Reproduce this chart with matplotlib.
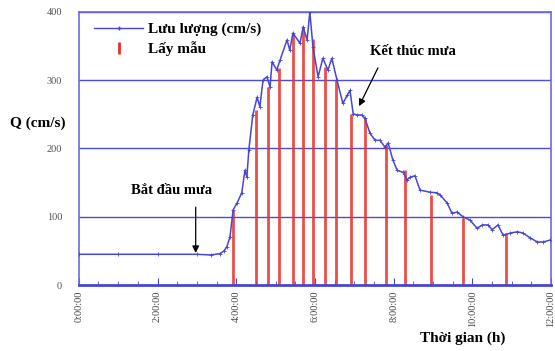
import matplotlib
matplotlib.use("Agg")
import matplotlib.pyplot as plt
from matplotlib.lines import Line2D
import numpy as np

# ---- data ----
time_h = [0.0, 1.0, 2.0, 3.0, 3.35, 3.59, 3.69, 3.76, 3.84, 3.92, 4.02, 4.14, 4.22, 4.27,
          4.32, 4.42, 4.53, 4.60, 4.68, 4.78, 4.86, 4.91, 5.03, 5.11, 5.29, 5.36, 5.44,
          5.62, 5.70, 5.80, 5.87, 5.95, 6.08, 6.20, 6.33, 6.43, 6.56, 6.71, 6.82, 6.89,
          6.97, 7.07, 7.20, 7.27, 7.40, 7.53, 7.65, 7.78, 7.86, 7.98, 8.09, 8.24, 8.34,
          8.42, 8.54, 8.67, 8.92, 9.10, 9.18, 9.36, 9.48, 9.61, 9.76, 9.94, 10.12, 10.25,
          10.40, 10.50, 10.65, 10.78, 10.96, 11.14, 11.29, 11.47, 11.65, 11.80, 11.98]
flow = [45, 45, 45, 45, 44, 46, 50, 56, 70, 110, 120, 135, 168, 158,
        198, 249, 275, 261, 300, 305, 290, 327, 315, 329, 359, 344, 369,
        354, 378, 359, 400, 348, 305, 332, 315, 332, 300, 266, 278, 285,
        251, 249, 249, 244, 222, 212, 212, 202, 208, 183, 168, 165, 154,
        158, 160, 139, 136, 135, 132, 120, 105, 107, 100, 95, 83, 88,
        88, 81, 88, 73, 76, 78, 76, 69, 63, 63, 66]

sample_time_h = [3.92, 4.50, 4.81, 5.09, 5.44, 5.70, 5.95, 6.25, 6.53, 6.92, 7.27,
                 7.81, 8.29, 8.95, 9.76, 10.86]
sample_flow = [110, 256, 290, 318, 369, 378, 361, 320, 300, 251, 244, 205, 168,
               132, 98, 76]

xtick_hours = [0, 2, 4, 6, 8, 10, 12]
xtick_labels = ["0:00:00", "2:00:00", "4:00:00", "6:00:00", "8:00:00", "10:00:00", "12:00:00"]
ytick_vals = [0, 100, 200, 300, 400]

# ---- figure ----
fig = plt.figure(figsize=(5.55, 3.51), dpi=100)
ax = fig.add_axes([0.142, 0.188, 0.851, 0.778])

blue = "#4646d4"
red = "#e8302a"
serif = ["Liberation Serif", "DejaVu Serif"]

for v in ytick_vals[1:]:
    ax.axhline(v, color="#4b4be0", lw=1.0, zorder=1)

ax.vlines(sample_time_h, 0, sample_flow, colors=red, lw=2.0, alpha=0.85, zorder=2)
ax.plot(time_h, flow, color=blue, lw=1.1, marker="+", ms=2.5, mew=0.6, zorder=3)

ax.set_xlim(0, 12)
ax.set_ylim(0, 400)
ax.set_xticks(xtick_hours)
ax.set_xticklabels(xtick_labels, rotation=90, fontsize=7.5, color="#444444", family=serif)
ax.set_xticks(np.arange(0, 12.01, 0.5), minor=True)
ax.set_yticks(ytick_vals)
ax.set_yticklabels([str(v) for v in ytick_vals], fontsize=7.5, color="#555555", family=serif)
ax.tick_params(axis="x", which="major", direction="in", length=5, color=blue, pad=4)
ax.tick_params(axis="x", which="minor", direction="in", length=3, color=blue)
ax.tick_params(axis="y", length=0, pad=12)

for s in ["top", "right", "left"]:
    ax.spines[s].set_color("#6a6ae0")
    ax.spines[s].set_linewidth(1.2)
ax.spines["bottom"].set_color(blue)
ax.spines["bottom"].set_linewidth(2.0)

fig.text(0.018, 0.65, "Q (cm/s)", fontsize=11, fontweight="bold", family=serif,
         ha="left", va="center")
fig.text(0.91, 0.035, "Thời gian (h)", fontsize=11, fontweight="bold", family=serif,
         ha="right", va="center")

ax.text(2.35, 138, "Bắt đầu mưa", fontsize=10.5, fontweight="bold", family=serif,
        ha="center", va="center")
ax.annotate("", xy=(2.97, 47), xytext=(2.97, 114),
            arrowprops=dict(arrowstyle="-|>", color="black", lw=0.9, shrinkA=0, shrinkB=0))
ax.annotate("", xy=(7.12, 262), xytext=(7.6, 318),
            arrowprops=dict(arrowstyle="-|>", color="black", lw=0.9, shrinkA=0, shrinkB=0))
ax.text(8.5, 342, "Kết thúc mưa", fontsize=10.5, fontweight="bold", family=serif,
        ha="center", va="center")

handles = [Line2D([0], [0], color=blue, lw=1.0, marker="+", ms=3),
           Line2D([0], [0], color=red, lw=0, marker="|", ms=8, mew=2)]
leg = ax.legend(handles, ["Lưu lượng (cm/s)", "Lấy mẫu"], loc="upper left",
                bbox_to_anchor=(0.01, 1.0), frameon=False,
                prop={"family": serif, "weight": "bold", "size": 11},
                handlelength=3.2, handletextpad=0.3, labelspacing=0.3, borderaxespad=0.3)

fig.savefig("out.png", dpi=100)
